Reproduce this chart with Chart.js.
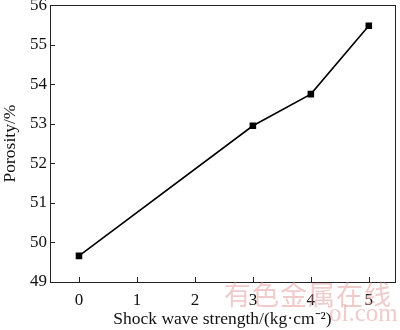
<!DOCTYPE html>
<html>
<head>
<meta charset="utf-8">
<script src="https://cdn.jsdelivr.net/npm/chart.js@4.4.0/dist/chart.umd.min.js"></script>
<style>
  html, body { margin: 0; padding: 0; background: #fff; }
  #wrap { position: relative; width: 400px; height: 330px; overflow: hidden; }
  .mark { position: absolute; white-space: nowrap; color: rgba(225, 140, 140, 0.45); pointer-events: none; }
  #mark { left: 224px; top: 274px; font-family: "Noto Sans CJK SC", sans-serif; font-size: 27px; letter-spacing: 1px; }
  #mark2 { left: 329px; top: 299px; font-family: "Liberation Serif", serif; font-size: 25px; }
</style>
</head>
<body>
<div id="wrap">
  <canvas id="myChart" width="400" height="330"></canvas>
  <div class="mark" id="mark">有色金属在线</div>
  <div class="mark" id="mark2">ol.com</div>
</div>
<script>
// shock wave strength (kg/cm2) vs porosity (%)
var strength = [0, 3, 4, 5];
var porosity = [49.66, 52.95, 53.75, 55.48];
var xTicks = [0, 1, 2, 3, 4, 5];
var yTicks = [49, 50, 51, 52, 53, 54, 55, 56];

var points = [];
for (var i = 0; i < strength.length; i++) {
  points.push({ x: strength[i], y: porosity[i] });
}

// box round the plot and inward tick marks
var frame = {
  id: 'frame',
  afterDraw: function(chart) {
    var ctx = chart.ctx, a = chart.chartArea;
    var xs = chart.scales.x, ys = chart.scales.y;
    ctx.save();
    ctx.strokeStyle = '#222';
    ctx.lineWidth = 1;
    ctx.strokeRect(Math.round(a.left) + 0.5, Math.round(a.top) + 0.5,
                   Math.round(a.right - a.left), Math.round(a.bottom - a.top));
    ctx.beginPath();
    xTicks.forEach(function(v) {
      var px = Math.round(xs.getPixelForValue(v)) + 0.5;
      ctx.moveTo(px, a.bottom);
      ctx.lineTo(px, a.bottom - 5);
    });
    yTicks.forEach(function(v) {
      var py = Math.round(ys.getPixelForValue(v)) + 0.5;
      ctx.moveTo(a.left, py);
      ctx.lineTo(a.left + 5, py);
    });
    ctx.stroke();
    ctx.restore();
  }
};

var font = 'Liberation Serif';

new Chart(document.getElementById('myChart'), {
  type: 'scatter',
  data: {
    datasets: [{
      data: points,
      showLine: true,
      borderColor: '#000',
      backgroundColor: '#000',
      borderWidth: 1.6,
      pointStyle: 'rect',
      pointRadius: 3.5,
      pointHoverRadius: 3.5
    }]
  },
  options: {
    responsive: false,
    animation: false,
    layout: { padding: { top: 5, right: 3, left: 0, bottom: 0 } },
    plugins: { legend: { display: false }, tooltip: { enabled: false } },
    scales: {
      x: {
        type: 'linear',
        min: -0.5,
        max: 5.45,
        afterBuildTicks: function(s) { s.ticks = xTicks.map(function(v) { return { value: v }; }); },
        afterFit: function(s) { s.height = 48; s.paddingLeft = 0; s.paddingRight = 0; },
        grid: { display: false, drawTicks: false },
        border: { display: false },
        ticks: { color: '#111', font: { family: font, size: 17 }, padding: 8 },
        title: {
          display: true,
          text: 'Shock wave strength/(kg·cm⁻²)',
          color: '#111',
          font: { family: font, size: 17.5 },
          padding: { top: 2, bottom: 0 }
        }
      },
      y: {
        min: 49,
        max: 56,
        afterBuildTicks: function(s) { s.ticks = yTicks.map(function(v) { return { value: v }; }); },
        afterFit: function(s) { s.width = 50; s.paddingTop = 0; s.paddingBottom = 0; },
        grid: { display: false, drawTicks: false },
        border: { display: false },
        ticks: { color: '#111', font: { family: font, size: 17 }, padding: 3 },
        title: {
          display: true,
          text: 'Porosity/%',
          color: '#111',
          font: { family: font, size: 17.5 },
          padding: { top: 0, bottom: 0 }
        }
      }
    }
  },
  plugins: [frame]
});
</script>
</body>
</html>
